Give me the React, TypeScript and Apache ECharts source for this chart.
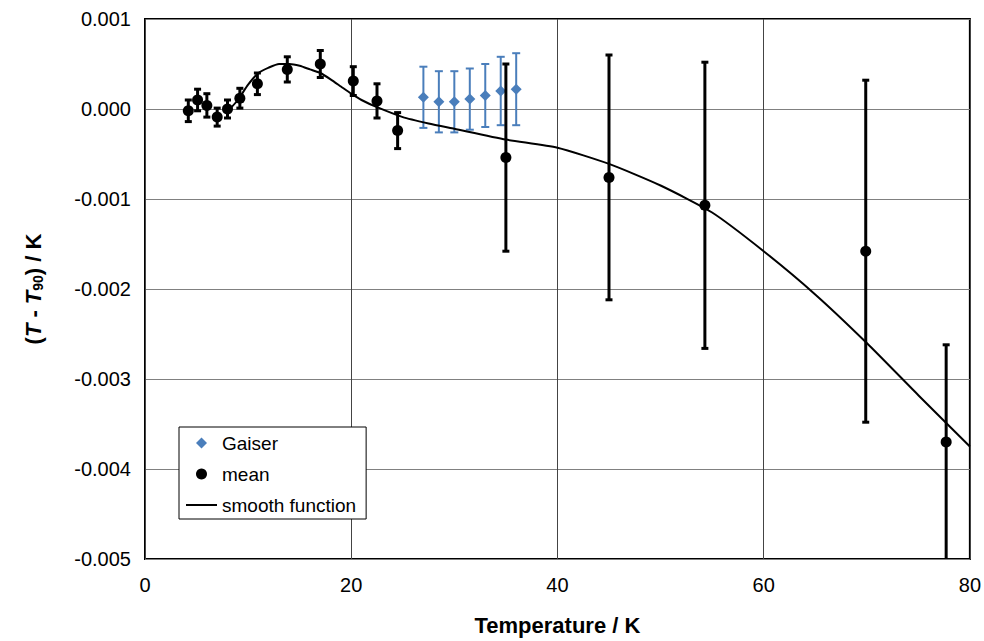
import React, { useEffect, useRef } from "react";
import * as echarts from "echarts";

// ---- data ----
const meanT = [4.2, 5.1, 6.0, 7.0, 8.0, 9.2, 10.9, 13.8, 17.0, 20.2, 22.5, 24.5, 35.0, 45.0, 54.3, 69.9, 77.7];
const meanV = [-0.00002, 0.0001, 0.00004, -0.00009, 0.0, 0.00012, 0.00028, 0.00044, 0.0005, 0.00031, 0.00009, -0.00024, -0.00054, -0.00076, -0.00107, -0.00158, -0.0037];
const meanErrPlus = [0.00012, 0.00012, 0.00013, 0.0001, 0.0001, 0.00011, 0.00012, 0.00014, 0.00015, 0.00016, 0.00019, 0.0002, 0.00104, 0.00136, 0.00159, 0.0019, 0.00108];
const meanErrMinus = [0.00012, 0.00012, 0.00013, 0.0001, 0.0001, 0.00011, 0.00012, 0.00014, 0.00015, 0.00016, 0.00019, 0.0002, 0.00104, 0.00136, 0.00159, 0.0019, 0.0014];

const gaiserT = [27.0, 28.5, 30.0, 31.5, 33.0, 34.5, 36.0];
const gaiserV = [0.00013, 0.00008, 0.00008, 0.00011, 0.00015, 0.0002, 0.00022];
const gaiserErr = [0.00034, 0.00034, 0.00034, 0.00034, 0.00035, 0.00038, 0.0004];

const smoothT = [8, 9, 10, 11, 12, 13, 14, 15, 16, 17, 18, 19, 20, 21, 22.5, 25, 27.5, 30, 35, 40, 45, 50, 55, 60, 65, 70, 75, 80];
const smoothV = [-0.00003, 0.0001, 0.00027, 0.0004, 0.00046, 0.0005, 0.0005, 0.00048, 0.00044, 0.0004, 0.00033, 0.00025, 0.00017, 0.0001, 0.00002, -0.00009, -0.00016, -0.00022, -0.00034, -0.00043, -0.00061, -0.00085, -0.00115, -0.00158, -0.00206, -0.0026, -0.00318, -0.00375];

const xTicks = { min: 0, max: 80, interval: 20 };
const yTicks = { min: -0.005, max: 0.001, interval: 0.001 };

const FONT = 'Arial, "Liberation Sans", sans-serif';
const BLUE = "#4a7ebb";

function errBar(color: string, lw: number, cap: number) {
  return (params: any, api: any) => {
    const x = api.value(0);
    let lo = api.value(2);
    const hi = api.value(3);
    let clipped = false;
    if (lo < yTicks.min) {
      lo = yTicks.min;
      clipped = true;
    }
    const top = api.coord([x, hi]);
    const bot = api.coord([x, lo]);
    const style = { stroke: color, lineWidth: lw };
    const children: any[] = [
      { type: "line", shape: { x1: top[0], y1: top[1], x2: bot[0], y2: bot[1] }, style },
      { type: "line", shape: { x1: top[0] - cap, y1: top[1], x2: top[0] + cap, y2: top[1] }, style },
    ];
    if (!clipped) {
      children.push({ type: "line", shape: { x1: bot[0] - cap, y1: bot[1], x2: bot[0] + cap, y2: bot[1] }, style });
    }
    return { type: "group", children };
  };
}

export default function App() {
  const ref = useRef<HTMLDivElement>(null);
  useEffect(() => {
    if (!ref.current) return;
    const chart = echarts.init(ref.current, null, { renderer: "svg" });
    const meanData = meanT.map((t, i) => [t, meanV[i]]);
    const meanErrData = meanT.map((t, i) => [t, meanV[i], meanV[i] - meanErrMinus[i], meanV[i] + meanErrPlus[i]]);
    const gData = gaiserT.map((t, i) => [t, gaiserV[i]]);
    const gErrData = gaiserT.map((t, i) => [t, gaiserV[i], gaiserV[i] - gaiserErr[i], gaiserV[i] + gaiserErr[i]]);
    const lineData = smoothT.map((t, i) => [t, smoothV[i]]);

    chart.setOption({
      animation: false,
      backgroundColor: "#fff",
      grid: {
        left: 145,
        right: 14,
        top: 19,
        bottom: 80,
        show: true,
        borderColor: "#000",
        borderWidth: 2,
        backgroundColor: "transparent",
      },
      legend: {
        orient: "vertical",
        left: 179,
        top: 427,
        padding: [6, 10, 4, 7],
        itemGap: 11,
        itemWidth: 31,
        itemHeight: 11,
        itemTextGap: 3,
        symbolKeepAspect: true,
        backgroundColor: "#fff",
        borderColor: "#000",
        borderWidth: 1,
        borderRadius: 0,
        textStyle: { fontFamily: FONT, fontSize: 19, color: "#000", lineHeight: 20 },
        data: [
          { name: "Gaiser", icon: "path://M5,0L10,5L5,10L0,5Z" },
          { name: "mean", icon: "circle" },
          { name: "smooth function", icon: "path://M0,0L31,0L31,2L0,2Z" },
        ],
      },
      xAxis: {
        type: "value",
        min: xTicks.min,
        max: xTicks.max,
        interval: xTicks.interval,
        axisLine: { show: false },
        axisTick: { show: false },
        splitLine: { show: true, lineStyle: { color: "#444", width: 1 } },
        axisLabel: { fontFamily: FONT, fontSize: 20, color: "#000", margin: 16 },
        name: "Temperature / K",
        nameLocation: "middle",
        nameGap: 55,
        nameTextStyle: { fontFamily: FONT, fontSize: 22, fontWeight: "bold", color: "#000" },
      },
      yAxis: {
        type: "value",
        min: yTicks.min,
        max: yTicks.max,
        interval: yTicks.interval,
        axisLine: { show: false },
        axisTick: { show: false },
        splitLine: { show: true, lineStyle: { color: "#808080", width: 1 } },
        axisLabel: {
          fontFamily: FONT,
          fontSize: 20,
          color: "#000",
          margin: 14,
          formatter: (v: number) => (Math.abs(v) < 1e-9 ? "0.000" : v.toFixed(3)),
        },
        name: "{b|(}{i|T}{b| - }{i|T}{s|90}{b|) / K}",
        nameLocation: "middle",
        nameGap: 100,
        nameTextStyle: {
          fontFamily: FONT,
          fontSize: 22,
          fontWeight: "bold",
          color: "#000",
          rich: {
            b: { fontFamily: FONT, fontSize: 22, fontWeight: "bold", color: "#000" },
            i: { fontFamily: FONT, fontSize: 22, fontWeight: "bold", fontStyle: "italic", color: "#000" },
            s: { fontFamily: FONT, fontSize: 14, fontWeight: "bold", color: "#000", padding: [9, 0, 0, 0] },
          },
        },
      },
      series: [
        {
          type: "custom",
          name: "Gaiser err",
          data: gErrData,
          renderItem: errBar(BLUE, 2, 4),
          encode: { x: 0, y: [1, 2, 3] },
          z: 2,
          silent: true,
        },
        {
          type: "scatter",
          name: "Gaiser",
          data: gData,
          symbol: "diamond",
          symbolSize: 11,
          itemStyle: { color: BLUE, opacity: 1 },
          z: 3,
        },
        {
          type: "custom",
          name: "mean err",
          data: meanErrData,
          renderItem: errBar("#000", 3, 3.5),
          encode: { x: 0, y: [1, 2, 3] },
          z: 4,
          silent: true,
        },
        {
          type: "scatter",
          name: "mean",
          data: meanData,
          symbol: "circle",
          symbolSize: 11,
          itemStyle: { color: "#000", opacity: 1 },
          z: 5,
        },
        {
          type: "line",
          name: "smooth function",
          data: lineData,
          showSymbol: false,
          symbol: "none",
          smooth: 0.2,
          lineStyle: { color: "#000", width: 2 },
          itemStyle: { color: "#000" },
          z: 6,
        },
      ],
    });
    return () => chart.dispose();
  }, []);
  return <div ref={ref} style={{ position: "absolute", left: 0, top: 0, width: 984, height: 641 }} />;
}
